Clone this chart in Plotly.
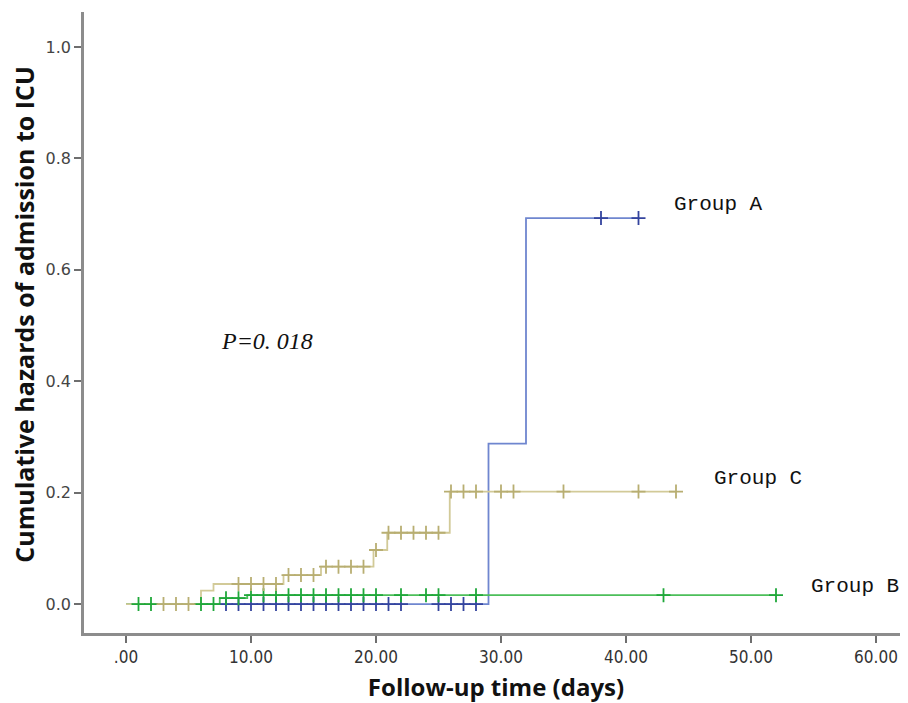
import plotly.graph_objects as go
import numpy as np

# ---- Data ----
# Step functions (cumulative hazard) per group
a_times = [0, 29, 32, 41]
a_vals = [0, 0.288, 0.693, 0.693]
b_times = [0, 7.5, 9.7, 52]
b_vals = [0, 0.0105, 0.016, 0.016]
c_times = [0, 6, 7, 12.6, 15.6, 19.8, 20.9, 25.9, 44]
c_vals = [0, 0.024, 0.036, 0.052, 0.067, 0.097, 0.128, 0.202, 0.202]

# Censored observation times
a_cens = [8, 9, 10, 11, 12, 13, 14, 15, 16, 17, 18, 19, 20, 21, 22, 25, 26, 27, 28, 38, 41]
b_cens = [1, 2, 6, 7, 8, 9, 10, 11, 12, 13, 14, 15, 16, 17, 18, 19, 20, 22, 24, 25, 28, 43, 52]
c_cens = [3, 4, 5, 9, 10, 11, 12, 13, 14, 15, 16, 17, 18, 19, 20, 21, 22, 23, 24, 25, 26, 27, 28, 30, 31, 35, 41, 44]

group_names = ["Group A", "Group B", "Group C"]
p_text = "P=0. 018"
x_title = "Follow-up time (days)"
y_title = "Cumulative hazards of admission to ICU"
x_ticks = [0, 10, 20, 30, 40, 50, 60]
x_tick_labels = [".00", "10.00", "20.00", "30.00", "40.00", "50.00", "60.00"]
y_ticks = [0.0, 0.2, 0.4, 0.6, 0.8, 1.0]
y_tick_labels = ["0.0", "0.2", "0.4", "0.6", "0.8", "1.0"]


def step_at(times, vals, t):
    idx = np.searchsorted(np.array(times), t, side="right") - 1
    return vals[max(idx, 0)]


fig = go.Figure()

series = [
    (a_times, a_vals, a_cens, "#6f86cf", "#34449e"),
    (b_times, b_vals, b_cens, "#4cbf5a", "#1fa83a"),
    (c_times, c_vals, c_cens, "#d2ca98", "#b8ae72"),
]
# draw order: blue, green, tan (tan on top)
for times, vals, cens, lc, mc in series:
    fig.add_trace(go.Scatter(x=times, y=vals, mode="lines", line=dict(color=lc, width=1.8, shape="hv"),
                             hoverinfo="skip", showlegend=False))
for times, vals, cens, lc, mc in series:
    fig.add_trace(go.Scatter(x=cens, y=[step_at(times, vals, t) for t in cens], mode="markers",
                             marker=dict(symbol="cross-thin", size=10, line=dict(color=mc, width=1.8)),
                             hoverinfo="skip", showlegend=False))

label_font = dict(family="Liberation Mono, DejaVu Sans Mono, monospace", size=21, color="#111111")
fig.add_annotation(x=43.7, y=0.718, text=group_names[0], showarrow=False, xanchor="left", yanchor="middle", font=label_font)
fig.add_annotation(x=54.6, y=0.032, text=group_names[1], showarrow=False, xanchor="left", yanchor="middle", font=label_font)
fig.add_annotation(x=46.9, y=0.226, text=group_names[2], showarrow=False, xanchor="left", yanchor="middle", font=label_font)
fig.add_annotation(x=7.4, y=0.472, text="<i>" + p_text + "</i>", showarrow=False, xanchor="left", yanchor="middle",
                   font=dict(family="Liberation Serif, serif", size=24, color="#111111"))

# y-axis title as a rotated annotation (placed slightly above the axis centre, as in the reference)
fig.add_annotation(xref="paper", yref="paper", x=-0.0725, y=0.513, text="<b>" + y_title + "</b>",
                   textangle=-90, showarrow=False, xanchor="center", yanchor="middle",
                   font=dict(family="Open Sans, DejaVu Sans, sans-serif", size=25, color="#111111"))

axis_common = dict(showline=True, linecolor="#8c8c8c", linewidth=2.5, ticks="outside", ticklen=7,
                   tickcolor="#6e6e6e", tickwidth=1.5, showgrid=False, zeroline=False, mirror=False)

# page body has an 8px margin, so the figure is sized to fit the 908x703 window
fig.update_layout(
    width=900, height=695,
    margin=dict(l=76, r=0, t=4, b=70),
    plot_bgcolor="white", paper_bgcolor="white",
    xaxis=dict(range=[-3.36, 62.56], tickvals=x_ticks, ticktext=x_tick_labels,
               tickfont=dict(family="Liberation Sans Narrow, DejaVu Sans Condensed, sans-serif", size=17, color="#333333"),
               title=dict(text="<b>" + x_title + "</b>", standoff=21,
                          font=dict(family="Open Sans, DejaVu Sans, sans-serif", size=24, color="#111111")),
               automargin=False, **axis_common),
    yaxis=dict(range=[-0.052, 1.063], tickvals=y_ticks, ticktext=y_tick_labels,
               tickfont=dict(family="DejaVu Sans, sans-serif", size=16, color="#444444"),
               automargin=False, **axis_common),
)

fig.write_html("out.html")
